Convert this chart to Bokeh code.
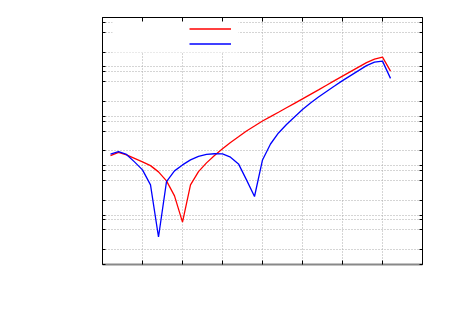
from bokeh.plotting import figure
from bokeh.models import (Range1d, FixedTicker, LinearAxis, LogAxis, Legend, LegendItem,
                          BoxAnnotation)
from bokeh.embed import file_html
from bokeh.resources import INLINE

# ---- data ----
x_vals = [0.2, 0.4, 0.6, 0.8, 1.0, 1.2, 1.4, 1.6, 1.8, 2.0, 2.2, 2.4, 2.6, 2.8, 3.0, 3.2, 3.4, 3.6,
          3.8, 4.0, 4.2, 4.4, 4.6, 4.8, 5.0, 5.2, 5.4, 5.6, 5.8, 6.0, 6.2, 6.4, 6.6, 6.8, 7.0, 7.2]
red_vals = [0.0160, 0.0186, 0.01652, 0.01403, 0.01194, 0.01004, 0.00750, 0.00493, 0.00245, 0.000722,
            0.00409, 0.00760, 0.0114, 0.01615, 0.0220, 0.0296, 0.0385, 0.0505, 0.0637, 0.0804,
            0.0986, 0.121, 0.149, 0.183, 0.225, 0.278, 0.343, 0.425, 0.526, 0.652,
            0.804, 0.991, 1.222, 1.438, 1.578, 0.822]
blue_vals = [0.01706, 0.01928, 0.01690, 0.01194, 0.00822, 0.00409, 0.000360, 0.00477, 0.00785, 0.01038,
             0.01309, 0.01542, 0.01690, 0.01746, 0.01730, 0.01486, 0.01087, 0.00516, 0.00238, 0.01309,
             0.0275, 0.0460, 0.0682, 0.0968, 0.137, 0.186, 0.245, 0.317, 0.409, 0.528,
             0.667, 0.841, 1.062, 1.250, 1.309, 0.586]
x_ticks = [1, 2, 3, 4, 5, 6, 7]
y_ticks = [1e-4, 2e-4, 5e-4, 8e-4, 1e-3, 2e-3, 5e-3, 8e-3, 1e-2, 2e-2, 5e-2, 8e-2,
           0.1, 0.2, 0.5, 0.8, 1, 2, 5, 8]

p = figure(frame_width=320, frame_height=247, output_backend="svg", toolbar_location=None,
           y_axis_type="log", x_range=Range1d(0, 8), y_range=Range1d(1e-4, 10),
           x_axis_location=None, y_axis_location=None,
           min_border_left=102, min_border_right=20, min_border_top=17, min_border_bottom=34)
p.background_fill_color = "white"
p.border_fill_color = "white"
p.outline_line_color = "black"

xt = FixedTicker(ticks=x_ticks)
yt = FixedTicker(ticks=y_ticks)

def style(ax, ticks, color="black"):
    ax.major_tick_in = 4
    ax.major_tick_out = 0
    ax.minor_tick_in = 0
    ax.minor_tick_out = 0
    ax.major_label_overrides = {t: "" for t in ticks}
    ax.major_label_standoff = 0
    ax.axis_line_color = color
    ax.major_tick_line_color = "black"

bx = LinearAxis(ticker=xt); style(bx, x_ticks, "#888888"); bx.axis_line_width = 2
tx = LinearAxis(ticker=xt); style(tx, x_ticks)
ly = LogAxis(ticker=yt); style(ly, y_ticks); ly.major_tick_in = 3
ry = LogAxis(ticker=yt); style(ry, y_ticks); ry.major_tick_in = 3
p.add_layout(bx, "below")
p.add_layout(tx, "above")
p.add_layout(ly, "left")
p.add_layout(ry, "right")

p.xgrid.ticker = xt
p.ygrid.ticker = yt
for g in (p.xgrid, p.ygrid):
    g.grid_line_color = "#aaaaaa"
    g.grid_line_dash = "1 2"
    g.grid_line_width = 1

# white key background (screen units: y measured from the frame bottom)
box = BoxAnnotation(left=10, right=136, top=247, bottom=212,
                    left_units="screen", right_units="screen",
                    top_units="screen", bottom_units="screen",
                    fill_color="white", fill_alpha=1.0, line_color=None, level="underlay")
p.add_layout(box)

r_red = p.line(x_vals, red_vals, line_color="#ff0000", line_width=1.3)
r_blue = p.line(x_vals, blue_vals, line_color="#0000ff", line_width=1.3)

legend = Legend(items=[LegendItem(label=" ", renderers=[r_red]),
                       LegendItem(label=" ", renderers=[r_blue])],
                location=(87, 213), padding=0, spacing=0, margin=0,
                glyph_width=42, glyph_height=15, label_height=15, label_width=5,
                label_standoff=0, label_text_font_size="8px", label_text_color="white",
                background_fill_alpha=0, border_line_color=None)
p.add_layout(legend)

open("out.html", "w").write(file_html(p, INLINE))
